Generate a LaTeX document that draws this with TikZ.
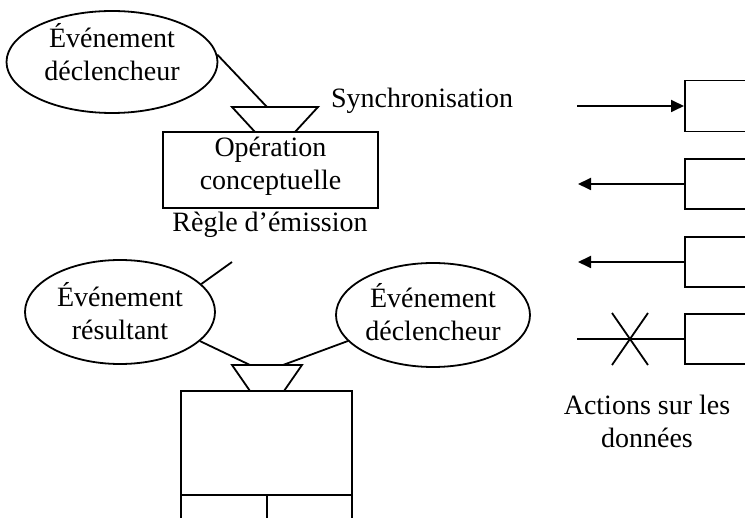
\documentclass[tikz,border=0pt]{standalone}
\usepackage{fontspec}
\setmainfont{Liberation Serif}
\usetikzlibrary{shapes.geometric,arrows.meta,calc}
\begin{document}
\begin{tikzpicture}[x=1pt,y=-1pt,
  every node/.style={font=\fontsize{28}{33}\selectfont},
  ln/.style={line width=1.8pt},
  ell/.style={ellipse,draw,ln,inner sep=0pt},
  box/.style={draw,ln,inner sep=0pt},
  thick2/.style={line width=2.8pt},
  arr/.style={ln,-{Triangle[length=13pt,width=12pt]}}]
\useasboundingbox (0,0) rectangle (745,518);
\clip (0,0) rectangle (745,518);
% top part
\node[ell,minimum width=211pt,minimum height=102pt] (e1) at (112,62) {};
\node[align=center] (e1t) at (112,52) {Événement\\déclencheur};
\coordinate (tp1) at (232,107);
\draw[ln] (tp1) -- ++(86,0) -- ++(-23,25) -- ++(-40,0) -- cycle;
\coordinate (tp1a) at (267,107);
\draw[ln] (e1.4) -- (tp1a);
\node[box,minimum width=215pt,minimum height=76pt] (op) at (270.5,170) {};
\node[align=center] (opt) at (270.5,166) {Opération\\conceptuelle};
\node (sync) at (422,101) {Synchronisation};
\node (regle) at (270,225) {Règle d’émission};
% lower part
\node[ell,minimum width=190pt,minimum height=104pt] (e2) at (120,312) {};
\node[align=center] (e2t) at (120,311) {Événement\\résultant};
\node[ell,minimum width=194pt,minimum height=104pt] (e3) at (433,315) {};
\node[align=center] (e3t) at (433,312) {Événement\\déclencheur};
\coordinate (stub) at (232,262);
\draw[ln] (e2.19) -- (stub);
\coordinate (tp2) at (232,365);
\draw[ln] (tp2) -- ++(70,0) -- ++(-18,26) -- ++(-34,0) -- cycle;
\coordinate (tp2a) at (250,365);
\coordinate (tp2b) at (283,365);
\draw[ln] (e2.-20) -- (tp2a);
\draw[ln] (e3.-163) -- (tp2b);
\node[box,minimum width=171pt,minimum height=104pt] (op2) at (266.5,443) {};
\draw[ln] (181,495) -- (181,530);
\draw[ln] (352,495) -- (352,530);
\draw[thick2] (181,495) -- (352,495);
\draw[thick2] (267,495) -- (267,530);
% right legend
\node[box,minimum width=120pt,minimum height=51pt,anchor=west] (b1) at (684,106) {};
\node[box,minimum width=120pt,minimum height=50pt,anchor=west] (b2) at (684,184) {};
\node[box,minimum width=120pt,minimum height=50pt,anchor=west] (b3) at (684,262) {};
\node[box,minimum width=120pt,minimum height=50pt,anchor=west] (b4) at (684,339) {};
\coordinate (a1) at (577,106);
\coordinate (a2) at (578,184);
\coordinate (a3) at (578,262);
\coordinate (a4) at (577,339);
\draw[arr] (a1) -- (b1.west);
\draw[arr] (b2.west) -- (a2);
\draw[arr] (b3.west) -- (a3);
\draw[ln] (a4) -- (b4.west);
\draw[ln] (612,313) -- (648,365);
\draw[ln] (648,313) -- (612,365);
\node[align=center] (act) at (647,421) {Actions sur les\\données};
\end{tikzpicture}
\end{document}
